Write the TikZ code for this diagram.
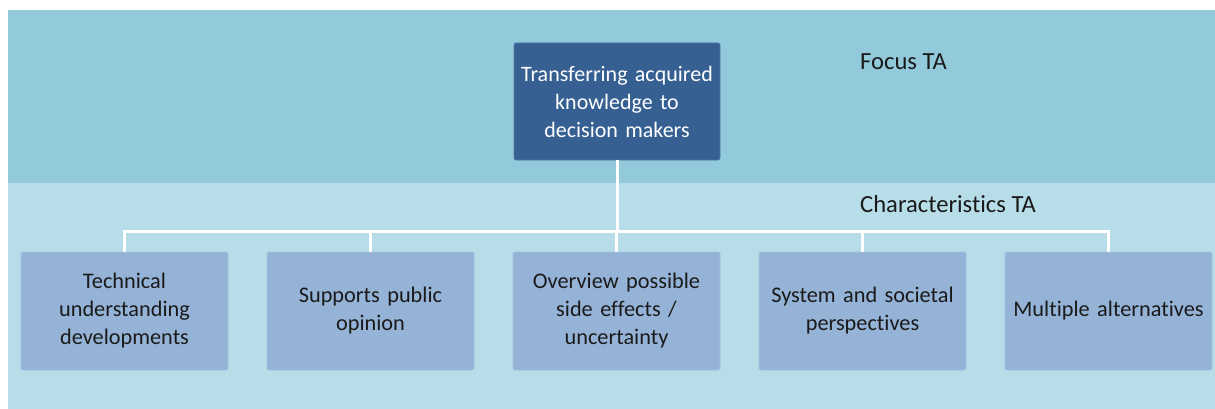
\documentclass[tikz,border=0pt]{standalone}
\usepackage{fontspec}
\setmainfont{Carlito}[Ligatures=NoCommon]
\definecolor{bandtop}{HTML}{92CADC}
\definecolor{bandlow}{HTML}{B7DDE8}
\definecolor{topbox}{HTML}{366092}
\definecolor{lowbox}{HTML}{95B3D7}
\definecolor{ink}{HTML}{1A1A1A}
\tikzset{
  focusbox/.style={fill=topbox, draw=topbox!85!white, line width=0.6pt, rounded corners=2pt,
    minimum width=206pt, minimum height=117pt, text width=196pt, align=center,
    text=white, font=\fontsize{22}{28}\selectfont, inner sep=0pt},
  charbox/.style={fill=lowbox, draw=lowbox!85!white, line width=0.6pt, rounded corners=2pt,
    minimum width=207pt, minimum height=118pt, text width=200pt, align=center,
    text=ink, font=\fontsize{22.3}{28}\selectfont, inner sep=0pt},
  bandlabel/.style={anchor=base west, inner sep=0pt, text=ink, font=\fontsize{24.6}{28}\selectfont},
  conn/.style={draw=white, line width=3pt, line join=miter}
}
\begin{document}
\begin{tikzpicture}[x=1pt,y=-1pt]
\useasboundingbox (0,0) rectangle (1215,409);
\fill[bandtop] (8,10) rectangle (1215,183);
\fill[bandlow] (8,183) rectangle (1215,409);
\node[focusbox] (top) at (617,101.5) {Transferring acquired\\knowledge to\\decision makers};
\node[bandlabel] (focus) at (860,70) {Focus TA};
\node[bandlabel] (chars) at (860,212) {Characteristics TA};
\node[charbox] (b1) at (124.5,311) {Technical\\understanding\\developments};
\node[charbox] (b2) at (370.5,311) {Supports public\\opinion};
\node[charbox] (b3) at (616.5,311) {Overview possible\\side effects /\\uncertainty};
\node[charbox] (b4) at (862.5,311) {System and societal\\perspectives};
\node[charbox] (b5) at (1108.5,311) {Multiple alternatives};
\coordinate (bus) at (617,231);
\draw[conn] (top.south) -- (bus);
\draw[conn] (b1.north) |- (bus) -| (b5.north);
\draw[conn] (b2.north) -- (b2.north |- bus);
\draw[conn] (b3.north) -- (b3.north |- bus);
\draw[conn] (b4.north) -- (b4.north |- bus);
\end{tikzpicture}
\end{document}
